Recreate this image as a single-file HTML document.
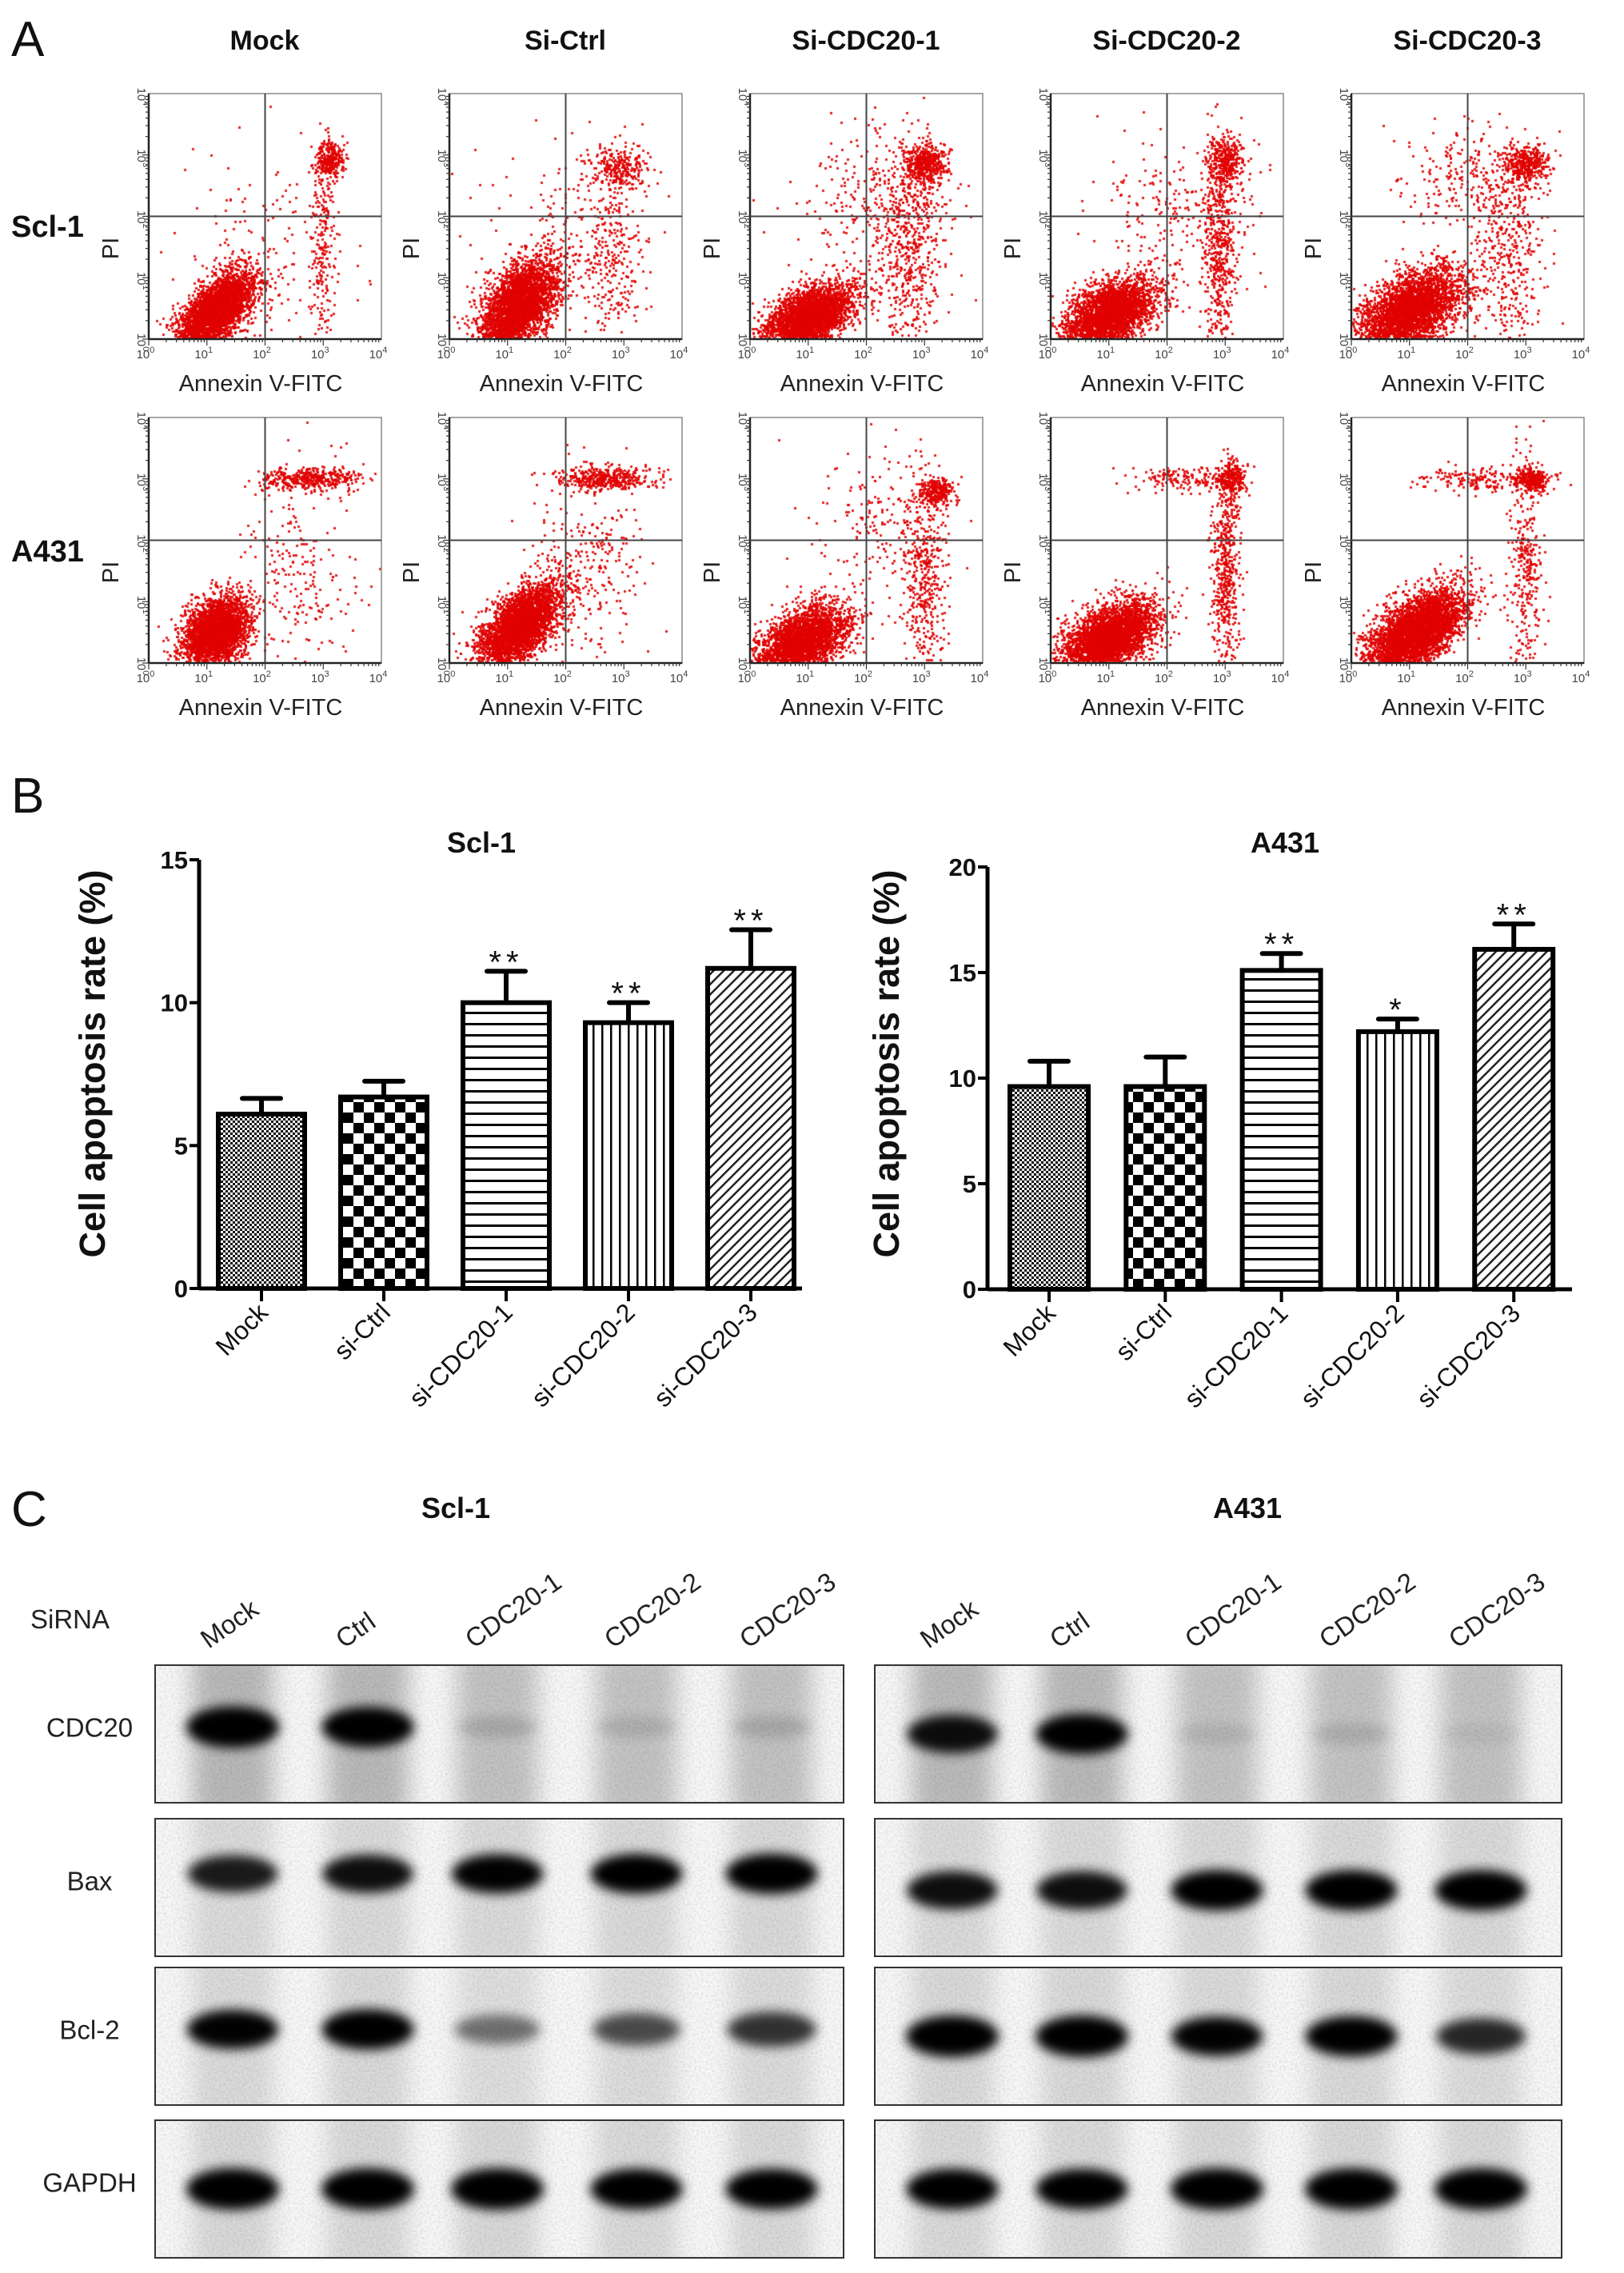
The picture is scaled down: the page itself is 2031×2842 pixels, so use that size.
<!DOCTYPE html>
<html><head><meta charset="utf-8">
<style>
html,body{margin:0;padding:0;background:#fff;}
#wrap{position:relative;width:2031px;height:2842px;overflow:hidden;background:#fff;font-family:"Liberation Sans",Arial,sans-serif;}
canvas{position:absolute;}
#main{position:absolute;left:0;top:0;}
</style></head>
<body>
<div id="wrap">
<svg id="main" width="2031" height="2842" xmlns="http://www.w3.org/2000/svg">
<defs>
<pattern id="pMock" width="6" height="6" patternUnits="userSpaceOnUse"><rect width="6" height="6" fill="#fff"/><rect width="3" height="3" fill="#111"/><rect x="3" y="3" width="3" height="3" fill="#111"/></pattern>
<pattern id="pCtrl" width="26" height="26" patternUnits="userSpaceOnUse"><rect width="26" height="26" fill="#fff"/><rect width="13" height="13" fill="#000"/><rect x="13" y="13" width="13" height="13" fill="#000"/></pattern>
<pattern id="pH" width="10" height="14" patternUnits="userSpaceOnUse"><rect width="10" height="14" fill="#fff"/><rect y="5" width="10" height="3" fill="#000"/></pattern>
<pattern id="pV" width="11" height="10" patternUnits="userSpaceOnUse"><rect width="11" height="10" fill="#fff"/><rect x="4" width="2.5" height="10" fill="#000"/></pattern>
<pattern id="pD" width="9" height="9" patternUnits="userSpaceOnUse" patternTransform="rotate(45)"><rect width="9" height="9" fill="#fff"/><rect x="3" width="2.5" height="9" fill="#222"/></pattern>
<filter id="blurBand" x="-50%" y="-100%" width="200%" height="300%"><feGaussianBlur stdDeviation="7"/></filter>
<filter id="blurSmear" x="-50%" y="-20%" width="200%" height="140%"><feGaussianBlur stdDeviation="14"/></filter>
<filter id="grain"><feTurbulence type="fractalNoise" baseFrequency="0.35" numOctaves="2" seed="3"/><feColorMatrix type="matrix" values="0 0 0 0 0  0 0 0 0 0  0 0 0 0 0  0 0 0 -1.2 0.75"/></filter>
</defs>
</svg>
</div>
<script>
// ---------------- DATA ----------------
const flowCols=['Mock','Si-Ctrl','Si-CDC20-1','Si-CDC20-2','Si-CDC20-3'];
const flowRows=['Scl-1','A431'];
// clusters per plot: [cx, cy, sx, sy, rho, n] in log decades
const flowScl1Mock=[[1.15,0.45,0.33,0.32,0.6,3200],[3.1,2.95,0.12,0.15,0,280],[3.0,1.5,0.12,0.8,0,230],[2.0,1.2,0.8,0.8,0,160]];
const flowScl1Ctrl=[[1.2,0.55,0.33,0.38,0.5,3400],[2.9,2.8,0.25,0.18,0,260],[2.8,1.4,0.28,0.8,0,300],[1.8,1.8,0.7,0.7,0,120]];
const flowScl1Cdc1=[[1.0,0.35,0.4,0.28,0.5,3000],[3.0,2.85,0.18,0.18,0,450],[2.75,1.4,0.3,0.8,0,520],[2.3,2.3,0.7,0.6,0,300]];
const flowScl1Cdc2=[[1.0,0.4,0.4,0.3,0.5,3000],[3.0,2.9,0.15,0.2,0,360],[2.9,1.4,0.14,0.8,0,520],[2.2,2.2,0.7,0.6,0,220]];
const flowScl1Cdc3=[[1.0,0.45,0.45,0.35,0.5,3500],[3.0,2.85,0.2,0.15,0,400],[2.7,1.4,0.3,0.8,0,420],[1.9,2.6,0.6,0.4,0,220]];
const flowA431Mock=[[1.15,0.5,0.28,0.28,0.3,3000],[2.8,3.0,0.45,0.1,0,420],[2.6,1.5,0.5,0.8,0,220]];
const flowA431Ctrl=[[1.2,0.6,0.35,0.35,0.6,3500],[2.7,3.0,0.4,0.1,0,420],[2.4,1.6,0.5,0.8,0,260]];
const flowA431Cdc1=[[0.9,0.35,0.4,0.3,0.5,3000],[3.2,2.8,0.15,0.12,0,260],[3.0,1.4,0.18,0.8,0,420],[2.3,2.3,0.6,0.6,0,200]];
const flowA431Cdc2=[[1.0,0.4,0.4,0.3,0.5,3500],[3.1,3.0,0.12,0.15,0,260],[3.0,1.5,0.12,0.8,0,520],[2.3,3.0,0.45,0.1,0,150]];
const flowA431Cdc3=[[1.1,0.5,0.42,0.35,0.6,4000],[3.1,3.0,0.15,0.1,0,300],[3.0,1.5,0.15,0.8,0,320],[2.2,3.0,0.5,0.1,0,180]];
const flowData=[[flowScl1Mock,flowScl1Ctrl,flowScl1Cdc1,flowScl1Cdc2,flowScl1Cdc3],[flowA431Mock,flowA431Ctrl,flowA431Cdc1,flowA431Cdc2,flowA431Cdc3]];
const flowDecades=[0,1,2,3,4];

const barCats=['Mock','si-Ctrl','si-CDC20-1','si-CDC20-2','si-CDC20-3'];
const scl1Means=[6.1,6.7,10.0,9.3,11.2];
const scl1Errs=[0.55,0.55,1.1,0.7,1.35];
const scl1Sig=['','','**','**','**'];
const scl1Ticks=[0,5,10,15];
const a431Means=[9.6,9.6,15.1,12.2,16.1];
const a431Errs=[1.2,1.4,0.8,0.6,1.2];
const a431Sig=['','','**','*','**'];
const a431Ticks=[0,5,10,15,20];

const blotRows=['CDC20','Bax','Bcl-2','GAPDH'];
const blotLanes=['Mock','Ctrl','CDC20-1','CDC20-2','CDC20-3'];
const scl1Band=[[1,0.95,0.12,0.1,0.12],[0.8,0.85,0.9,0.92,0.95],[0.9,0.95,0.45,0.6,0.7],[1,1,1,0.95,0.95]];
const a431Band=[[0.85,0.95,0.08,0.1,0.05],[0.85,0.85,0.95,0.95,0.95],[1,1,0.9,0.95,0.75],[0.95,0.95,1,1,1]];

// ---------------- HELPERS ----------------
const NS='http://www.w3.org/2000/svg';
const svg=document.getElementById('main');
const wrap=document.getElementById('wrap');
function mk(tag,attrs,parent){const e=document.createElementNS(NS,tag);for(const k in attrs)e.setAttribute(k,attrs[k]);(parent||svg).appendChild(e);return e;}
function txt(s,attrs,parent){const e=mk('text',attrs,parent);e.textContent=s;return e;}
let seed=12345;
function rnd(){seed|=0;seed=seed+0x6D2B79F5|0;let t=Math.imul(seed^seed>>>15,1|seed);t=t+Math.imul(t^t>>>7,61|t)^t;return((t^t>>>14)>>>0)/4294967296;}
function gauss(){let u=0,v=0;while(u===0)u=rnd();v=rnd();return Math.sqrt(-2*Math.log(u))*Math.cos(2*Math.PI*v);}

// ---------------- PANEL LETTERS ----------------
let t;
t=txt('A',{x:14,y:70,'font-size':62,fill:'#111'});

t=txt('B',{x:14,y:1016,'font-size':62,fill:'#111'});

t=txt('C',{x:14,y:1908,'font-size':62,fill:'#111'});


// ---------------- PANEL A ----------------
const fLefts=[186,562,938,1314,1690];
const fTops=[117,522];
const fW=291,fH=307;
function fx(l,d){return l+d/4*fW;}
function fy(tp,d){return tp+fH-d/4*fH;}
flowCols.forEach((c,i)=>{
  const e=txt(c,{x:fLefts[i]+145,y:62,'font-size':34,'font-weight':'bold','text-anchor':'middle',fill:'#111'});
  
  
});
flowRows.forEach((r,j)=>{
  const e=txt(r,{x:14,y:[296,702][j],'font-size':38,'font-weight':'bold',fill:'#111'});
  
  
});
for(let j=0;j<2;j++){for(let i=0;i<5;i++){
  const L=fLefts[i],T=fTops[j];
  const cv=document.createElement('canvas');
  cv.width=fW;cv.height=fH;cv.style.left=L+'px';cv.style.top=T+'px';
  
  
  wrap.insertBefore(cv,svg);
  const ctx=cv.getContext('2d');
  ctx.fillStyle='rgba(225,0,0,0.85)';
  flowData[j][i].forEach(cl=>{
    const [cx,cy,sx,sy,rho,n]=cl;
    for(let k=0;k<n;k++){
      const a=gauss(),b=gauss();
      let dx=cx+sx*a, dy=cy+sy*(rho*a+Math.sqrt(1-rho*rho)*b);
      if(dx<0.02||dx>3.98||dy<0.02||dy>3.98)continue;
      ctx.fillRect(Math.round(dx/4*fW)-1,Math.round(fH-dy/4*fH)-1,3,3);
    }
  });
  const g=mk('g',{});
  
  
  mk('rect',{x:L,y:T,width:fW,height:fH,fill:'none',stroke:'#888','stroke-width':1.5},g);
  mk('line',{x1:L,y1:T+fH,x2:L+fW,y2:T+fH,stroke:'#222','stroke-width':2.5},g);
  mk('line',{x1:L,y1:T,x2:L,y2:T+fH,stroke:'#222','stroke-width':2.5},g);
  mk('line',{x1:fx(L,2),y1:T,x2:fx(L,2),y2:T+fH,stroke:'#444','stroke-width':2},g);
  mk('line',{x1:L,y1:fy(T,2),x2:L+fW,y2:fy(T,2),stroke:'#444','stroke-width':2},g);
  for(let d=0;d<4;d++){for(let m=1;m<10;m++){
    const off=d+Math.log10(m);const len=m===1?8:4;
    mk('line',{x1:fx(L,off),y1:T+fH,x2:fx(L,off),y2:T+fH+len,stroke:'#333','stroke-width':1.2},g);
    mk('line',{x1:L,y1:fy(T,off),x2:L-len,y2:fy(T,off),stroke:'#333','stroke-width':1.2},g);
  }}
  flowDecades.forEach(d=>{
    const xl=txt('10',{x:fx(L,d)-4,y:T+fH+24,'font-size':15,fill:'#444','text-anchor':'middle'},g);
    const sp=mk('tspan',{dy:-7,'font-size':11},xl);sp.textContent=String(d);
    const yl=txt('10',{x:0,y:0,'font-size':15,fill:'#444','text-anchor':'middle',transform:'translate('+(L-14)+','+(fy(T,d)+4)+') rotate(90)'},g);
    const sp2=mk('tspan',{dy:-7,'font-size':11},yl);sp2.textContent=String(d);
  });
  const xt=txt('Annexin V-FITC',{x:L+140,y:T+fH+65,'font-size':29,fill:'#222','text-anchor':'middle'},g);
  
  
  const yt=txt('PI',{x:0,y:0,'font-size':29,fill:'#222','text-anchor':'middle',transform:'translate('+(L-38)+','+(T+fH/2+40)+') rotate(-90)'},g);
  
  
}}

// ---------------- PANEL B ----------------
const patterns=['url(#pMock)','url(#pCtrl)','url(#pH)','url(#pV)','url(#pD)'];
function barChart(cfg){
  const g=mk('g',{});
  
  
  const yS=v=>cfg.y0-(v/cfg.max)*(cfg.y0-cfg.yTop);
  const xC=i=>cfg.c0+i*cfg.pitch;
  const tt=txt(cfg.title,{x:cfg.titleX,y:1066,'font-size':36,'font-weight':'bold','text-anchor':'middle',fill:'#111'},g);
  
  
  cfg.means.forEach((m,i)=>{
    const b=mk('rect',{x:xC(i)-cfg.bw/2,y:yS(m),width:cfg.bw,height:cfg.y0-yS(m),fill:patterns[i],stroke:'#000','stroke-width':6},g);
    
    
    const et=yS(m+cfg.errs[i]);
    const eb=mk('path',{d:'M'+xC(i)+','+yS(m)+'V'+et+'M'+(xC(i)-24)+','+et+'H'+(xC(i)+24),stroke:'#000','stroke-width':6,fill:'none','stroke-linecap':'round'},g);
    
    
    if(cfg.sig[i]){
      const s=txt(cfg.sig[i],{x:xC(i),y:et+2,'font-size':40,'text-anchor':'middle','letter-spacing':6,fill:'#111'},g);
      
      
    }
    mk('line',{x1:xC(i),y1:cfg.y0,x2:xC(i),y2:cfg.y0+16,stroke:'#000','stroke-width':4},g);
    const lb=txt(cfg.cats[i],{x:0,y:0,'font-size':32,'text-anchor':'end',fill:'#111',transform:'translate('+(xC(i)+10)+','+(cfg.y0+32)+') rotate(-45)'},g);
    
    
  });
  mk('line',{x1:cfg.ax,y1:cfg.y0,x2:cfg.axEnd,y2:cfg.y0,stroke:'#000','stroke-width':5},g);
  mk('line',{x1:cfg.ax,y1:cfg.yTop,x2:cfg.ax,y2:cfg.y0+2,stroke:'#000','stroke-width':5},g);
  cfg.ticks.forEach(v=>{
    mk('line',{x1:cfg.ax-12,y1:yS(v),x2:cfg.ax,y2:yS(v),stroke:'#000','stroke-width':4},g);
    const tl=txt(String(v),{x:cfg.ax-14,y:yS(v)+11,'font-size':31,'font-weight':'bold','text-anchor':'end',fill:'#111'},g);
    
    
  });
  const yt=txt('Cell apoptosis rate (%)',{x:0,y:0,'font-size':45,'font-weight':'bold','text-anchor':'middle',fill:'#111',transform:'translate('+cfg.ytX+',1330) rotate(-90)'},g);
  
  
}
barChart({name:'bar-chart-scl1',title:'Scl-1',titleX:602,cats:barCats,means:scl1Means,errs:scl1Errs,sig:scl1Sig,ticks:scl1Ticks,max:15,y0:1611,yTop:1075,ax:249,axEnd:1003,c0:327,pitch:153,bw:108,ytX:131});
barChart({name:'bar-chart-a431',title:'A431',titleX:1607,cats:barCats,means:a431Means,errs:a431Errs,sig:a431Sig,ticks:a431Ticks,max:20,y0:1612,yTop:1084,ax:1235,axEnd:1966,c0:1312,pitch:145.3,bw:98,ytX:1124});

// ---------------- PANEL C ----------------
const bTops=[2082,2274,2460,2651];
const bH=172;
const bandY=[[0.45,0.4,0.45,0.5],[0.5,0.52,0.5,0.5]];
function blot(cfg,pi){
  const g=mk('g',{});
  
  
  const tt=txt(cfg.title,{x:cfg.titleX,y:1898,'font-size':36,'font-weight':'bold','text-anchor':'middle',fill:'#111'},g);
  
  
  blotLanes.forEach((ln,i)=>{
    const l=txt(ln,{x:0,y:0,'font-size':33,fill:'#222',transform:'translate('+(cfg.lanes[i]-30)+',2062) rotate(-35)'},g);
    
    
  });
  bTops.forEach((T,r)=>{
    const rg=mk('g',{},g);
    
    
    const cp='clip'+pi+r;
    const c=mk('clipPath',{id:cp},rg);mk('rect',{x:cfg.x,y:T,width:cfg.w,height:bH},c);
    const inner=mk('g',{'clip-path':'url(#'+cp+')'},rg);
    mk('rect',{x:cfg.x,y:T,width:cfg.w,height:bH,fill:'#f7f7f7'},inner);
    cfg.lanes.forEach((lx,i)=>{
      mk('rect',{x:lx-50,y:T-20,width:100,height:bH+40,fill:'#000',opacity:(r===0?0.2:0.07)+0.05*cfg.band[r][i],filter:'url(#blurSmear)'},inner);
    });
    mk('rect',{x:cfg.x,y:T,width:cfg.w,height:bH,fill:'#fff',filter:'url(#grain)',opacity:0.15},inner);
    cfg.lanes.forEach((lx,i)=>{
      const v=cfg.band[r][i];
      const e=mk('ellipse',{cx:lx,cy:T+bH*bandY[pi][r],rx:50+8*v,ry:12+14*v,fill:'#000',opacity:Math.min(1,v*1.1),filter:'url(#blurBand)'},inner);
      
      
    });
    mk('rect',{x:cfg.x,y:T,width:cfg.w,height:bH,fill:'none',stroke:'#333','stroke-width':2},rg);
    if(pi===0){
      const rl=txt(blotRows[r],{x:112,y:T+bH*0.45+12,'font-size':33,'text-anchor':'middle',fill:'#222'},g);
      
      
    }
  });
}
blot({name:'western-blot-scl1',title:'Scl-1',titleX:570,x:194,w:861,lanes:[291,460,622,796,965],band:scl1Band},0);
blot({name:'western-blot-a431',title:'A431',titleX:1560,x:1094,w:859,lanes:[1191,1353,1522,1690,1852],band:a431Band},1);
t=txt('SiRNA',{x:38,y:2036,'font-size':33,fill:'#222'});


</script>
</body></html>
